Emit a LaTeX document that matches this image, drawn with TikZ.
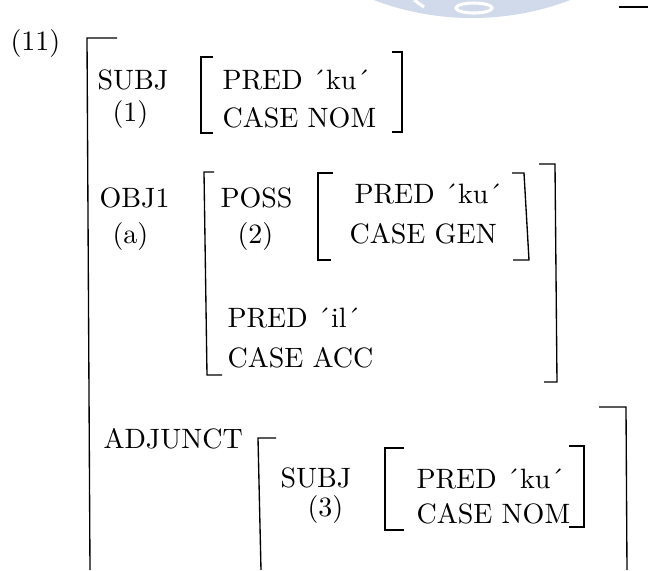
\documentclass[tikz,border=0pt]{standalone}
\usepackage{tikz}

\definecolor{stampblue}{RGB}{208,218,234}

\tikzset{
  feat/.style={anchor=base west, inner sep=0pt, font=\fontsize{10}{12}\selectfont},
  brk/.style={line width=0.48pt, line join=miter},
}

\newcommand{\q}{\textasciiacute}

\begin{document}
\begin{tikzpicture}[x=0.3571pt,y=-0.3571pt]
    \useasboundingbox (0,0) rectangle (648,570);

    % stamp at the top edge
    \begin{scope}
        \clip (0,0) rectangle (648,570);
        \fill[stampblue] (472,-258) circle (276);
        \draw[white, line width=1.1pt] (474,8) ellipse (18 and 5);
        \draw[white, line width=1.1pt] (414,0) -- (424,7);
    \end{scope}

    % example number
    \node[feat] (exnum) at (10,50) {(11)};

    % outer bracket
    \draw[brk] (117,38) -- (87,38) -- (90,570);
    \draw[brk] (619,7) -- (648,7);

    % SUBJ
    \node[feat] (subj) at (97,89) {SUBJ};
    \node[feat] (tag1) at (112,121) {(1)};
    \node[feat] (pred1) at (222,89) {PRED \q ku\q};
    \node[feat] (case1) at (222,127) {CASE NOM};
    \draw[brk] (213,57) -- (201,57) -- (201,133) -- (213,133);
    \draw[brk] (392,52) -- (402,52) -- (402,132) -- (392,132);

    % OBJ1
    \node[feat] (obj) at (99,207) {OBJ1};
    \node[feat] (taga) at (112,243) {(a)};
    \draw[brk] (214,172) -- (204,172) -- (207,375) -- (222,375);
    \draw[brk] (539,164) -- (555,164) -- (557,382) -- (544,382);

    % POSS inside OBJ1
    \node[feat] (poss) at (220,207) {POSS};
    \node[feat] (tag2) at (237,243) {(2)};
    \node[feat] (pred2) at (354,203) {PRED \q ku\q};
    \node[feat] (case2) at (349,243) {CASE GEN};
    \draw[brk] (333,173) -- (318,173) -- (318,260) -- (331,260);
    \draw[brk] (512,173) -- (524,173) -- (529,260) -- (513,260);

    \node[feat] (predil) at (227,327) {PRED \q il\q};
    \node[feat] (caseacc) at (227,367) {CASE ACC};

    % ADJUNCT
    \node[feat] (adj) at (103,448) {ADJUNCT};
    \draw[brk] (276,438) -- (258,438) -- (261,570);
    \draw[brk] (599,407) -- (626,407) -- (627,570);

    % SUBJ inside ADJUNCT
    \node[feat] (subj3) at (280,487) {SUBJ};
    \node[feat] (tag3) at (307,516) {(3)};
    \node[feat] (pred3) at (416,488) {PRED \q ku\q};
    \node[feat] (case3) at (416,523) {CASE NOM};
    \draw[brk] (404,448) -- (385,448) -- (385,530) -- (404,530);
    \draw[brk] (569,446) -- (584,446) -- (584,527) -- (569,527);
\end{tikzpicture}
\end{document}
